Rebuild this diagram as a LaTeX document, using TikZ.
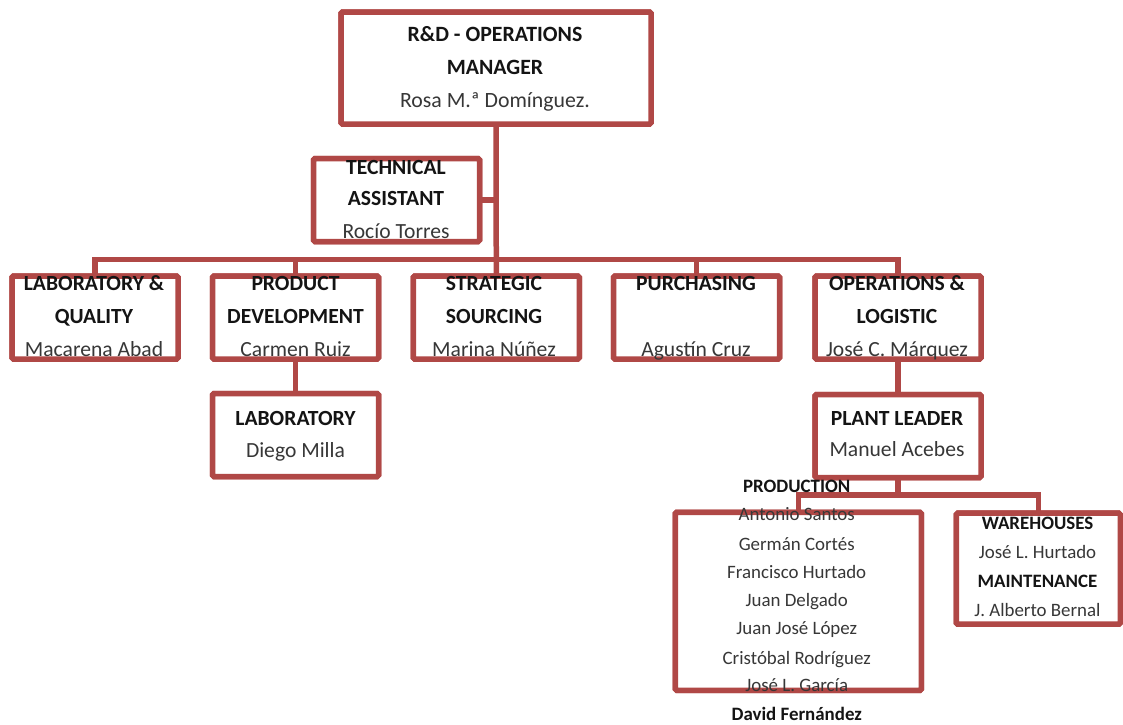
\documentclass[tikz,border=0pt]{standalone}
\usepackage{fontspec}
\setmainfont{Carlito}
\definecolor{frame}{RGB}{176,72,70}
\definecolor{ink}{RGB}{20,20,20}
\begin{document}
\begin{tikzpicture}[x=1pt,y=-1pt,
  box/.style={draw=frame, line width=5.5pt, fill=white, rounded corners=1.5pt, inner sep=0pt, outer sep=0pt},
  link/.style={draw=frame, line width=5.5pt},
  hA/.style={anchor=base, inner sep=0pt, text=ink, font=\fontsize{21.8}{21.8}\selectfont\bfseries},
  nA/.style={anchor=base, inner sep=0pt, text=ink!85, font=\fontsize{21.8}{21.8}\selectfont},
  hB/.style={anchor=base, inner sep=0pt, text=ink, font=\fontsize{21.6}{21.6}\selectfont\bfseries},
  nB/.style={anchor=base, inner sep=0pt, text=ink!85, font=\fontsize{21.6}{21.6}\selectfont},
  hC/.style={anchor=base, inner sep=0pt, text=ink, font=\fontsize{18.9}{18.9}\selectfont\bfseries},
  nC/.style={anchor=base, inner sep=0pt, text=ink!85, font=\fontsize{18.9}{18.9}\selectfont},
]
\useasboundingbox (0,0) rectangle (1123,724);

\coordinate (bus) at (496,259.5);
\coordinate (bus2) at (898,495);

% ---------- boxes (anchors for connectors) ----------
\node[box, minimum width=310, minimum height=112] (mgr) at (496,68) {};
\node[box, minimum width=166, minimum height=83] (tech) at (396.5,200) {};
\node[box, minimum width=166, minimum height=83] (labq) at (95,317.5) {};
\node[box, minimum width=166, minimum height=83] (pd) at (295.5,317.5) {};
\node[box, minimum width=166, minimum height=83] (strat) at (496.3,317.5) {};
\node[box, minimum width=166, minimum height=83] (purch) at (696.5,317.5) {};
\node[box, minimum width=166, minimum height=83] (ops) at (898,317.5) {};
\node[box, minimum width=166, minimum height=83] (lab) at (295.5,435) {};
\node[box, minimum width=166, minimum height=83] (plant) at (898,436) {};
\node[box, minimum width=246, minimum height=178] (prod) at (798.3,601.3) {};
\node[box, minimum width=164, minimum height=111] (wh) at (1038.3,568.7) {};

% ---------- connectors ----------
\draw[link] (mgr.south) -- (strat.north);
\draw[link] (tech.east) -- (tech.east -| mgr.south);
\draw[link] (labq.north) -- (labq.north |- bus) -- (ops.north |- bus) -- (ops.north);
\draw[link] (pd.north) -- (pd.north |- bus);
\draw[link] (purch.north) -- (purch.north |- bus);
\draw[link] (pd.south) -- (lab.north);
\draw[link] (ops.south) -- (plant.north);
\draw[link] (plant.south) -- (bus2);
\draw[link] (prod.north) -- (prod.north |- bus2) -- (wh.north |- bus2) -- (wh.north);

% ---------- boxes redrawn on top ----------
\node[box, minimum width=310, minimum height=112] (mgrF) at (496,68) {};
\node[box, minimum width=166, minimum height=83] (techF) at (396.5,200) {};
\node[box, minimum width=166, minimum height=83] (labqF) at (95,317.5) {};
\node[box, minimum width=166, minimum height=83] (pdF) at (295.5,317.5) {};
\node[box, minimum width=166, minimum height=83] (stratF) at (496.3,317.5) {};
\node[box, minimum width=166, minimum height=83] (purchF) at (696.5,317.5) {};
\node[box, minimum width=166, minimum height=83] (opsF) at (898,317.5) {};
\node[box, minimum width=166, minimum height=83] (labF) at (295.5,435) {};
\node[box, minimum width=166, minimum height=83] (plantF) at (898,436) {};
\node[box, minimum width=246, minimum height=178] (prodF) at (798.3,601.3) {};
\node[box, minimum width=164, minimum height=111] (whF) at (1038.3,568.7) {};

% ---------- texts ----------
\node[hA] (t1) at (495,41.7) {R\&D - OPERATIONS};
\node[hA] (t2) at (495,74.3) {MANAGER};
\node[nA] (t3) at (495,107.3) {Rosa M.ª Domínguez.};

\node[hB] (t4) at (396,174) {TECHNICAL};
\node[hB] (t5) at (396,205.5) {ASSISTANT};
\node[nB] (t6) at (396,238.3) {Rocío Torres};

\node[hB] (t7) at (94,290.7) {LABORATORY \&};
\node[hB] (t8) at (94,323) {QUALITY};
\node[nB] (t9) at (94,356.5) {Macarena Abad};

\node[hB] (t10) at (295.5,290.7) {PRODUCT};
\node[hB] (t11) at (295.5,323) {DEVELOPMENT};
\node[nB] (t12) at (295.5,356.5) {Carmen Ruiz};

\node[hB] (t13) at (494,290.7) {STRATEGIC};
\node[hB] (t14) at (494,323) {SOURCING};
\node[nB] (t15) at (494,356.5) {Marina Núñez};

\node[hB] (t16) at (696,290.7) {PURCHASING};
\node[nB] (t17) at (696,356.5) {Agustín Cruz};

\node[hB] (t18) at (897,290.7) {OPERATIONS \&};
\node[hB] (t19) at (897,323) {LOGISTIC};
\node[nB] (t20) at (897,356.5) {José C. Márquez};

\node[hB] (t21) at (295.5,425.5) {LABORATORY};
\node[nB] (t22) at (295.5,457) {Diego Milla};

\node[hB] (t23) at (897,425) {PLANT LEADER};
\node[nB] (t24) at (897,456.5) {Manuel Acebes};

\node[hC] (t25) at (796.7,492.7) {PRODUCTION};
\node[nC] (t26) at (796.7,520.7) {Antonio Santos};
\node[nC] (t27) at (796.7,550) {Germán Cortés};
\node[nC] (t28) at (796.7,578.3) {Francisco Hurtado};
\node[nC] (t29) at (796.7,606.7) {Juan Delgado};
\node[nC] (t30) at (796.7,634.3) {Juan José López};
\node[nC] (t31) at (796.7,664) {Cristóbal Rodríguez};
\node[nC] (t32) at (796.7,691.7) {José L. García};
\node[hC] (t33) at (796.7,720) {David Fernández};

\node[hC] (t34) at (1037.5,529.3) {WAREHOUSES};
\node[nC] (t35) at (1037.5,558.3) {José L. Hurtado};
\node[hC] (t36) at (1037.5,587.3) {MAINTENANCE};
\node[nC] (t37) at (1037.5,616) {J. Alberto Bernal};
\end{tikzpicture}
\end{document}
